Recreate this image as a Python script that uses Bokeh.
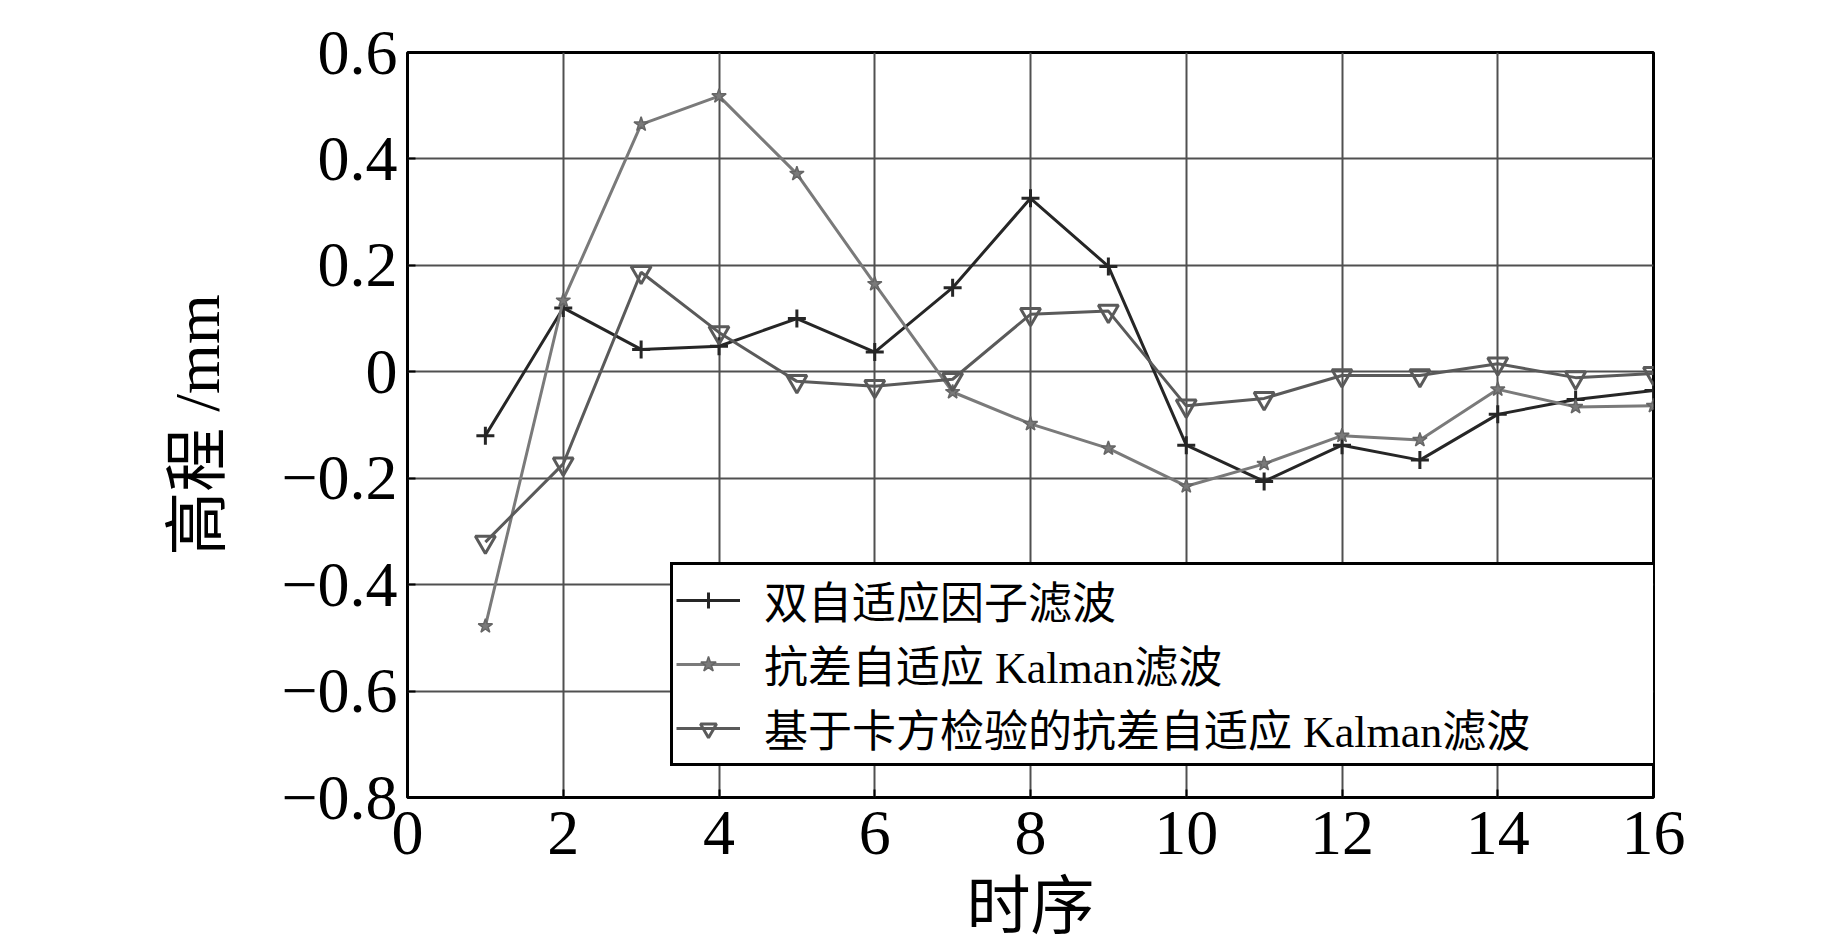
from bokeh.plotting import figure
from bokeh.models import Range1d, FixedTicker, Legend, LegendItem
from bokeh.embed import file_html
from bokeh.resources import INLINE

# ---- data ----
seq = list(range(1, 17))
dual_factor = [-0.12, 0.12, 0.042, 0.048, 0.10, 0.037, 0.158, 0.326,
               0.198, -0.138, -0.206, -0.138, -0.166, -0.08, -0.052, -0.035]
robust_kalman = [-0.478, 0.134, 0.465, 0.518, 0.372, 0.165, -0.038, -0.098,
                 -0.144, -0.215, -0.173, -0.12, -0.128, -0.033, -0.066, -0.064]
chi_robust_kalman = [-0.32, -0.173, 0.187, 0.074, -0.018, -0.027, -0.014, 0.108,
                     0.114, -0.064, -0.05, -0.007, -0.007, 0.015, -0.011, -0.003]
series_names = ["双自适应因子滤波", "抗差自适应 Kalman滤波", "基于卡方检验的抗差自适应 Kalman滤波"]
x_ticks = [0, 2, 4, 6, 8, 10, 12, 14, 16]
y_ticks = [-0.8, -0.6, -0.4, -0.2, 0.0, 0.2, 0.4, 0.6]
y_tick_labels = ["\u22120.8", "\u22120.6", "\u22120.4", "\u22120.2", "0", "0.2", "0.4", "0.6"]
x_label = "时序"
y_label = "高程 /mm"

SERIF = "'Liberation Serif', 'Noto Sans CJK SC'"

p = figure(width=1835, height=945, output_backend="svg", toolbar_location=None,
           x_range=Range1d(0, 16), y_range=Range1d(-0.8, 0.6),
           min_border_left=407, min_border_right=182, min_border_top=52, min_border_bottom=148)
p.background_fill_color = "white"
p.border_fill_color = "white"
p.outline_line_color = "black"
p.outline_line_width = 3
p.outline_line_alpha = 1

p.xaxis.ticker = FixedTicker(ticks=x_ticks)
p.yaxis.ticker = FixedTicker(ticks=y_ticks)
p.yaxis.major_label_overrides = {t: l for t, l in zip(y_ticks, y_tick_labels)}
for ax in (p.xaxis[0], p.yaxis[0]):
    ax.axis_line_color = None
    ax.major_tick_in = 8
    ax.major_tick_out = 0
    ax.major_tick_line_color = "black"
    ax.major_tick_line_width = 2
    ax.minor_tick_line_color = None
    ax.major_label_text_font = SERIF
    ax.major_label_text_font_size = "64px"
    ax.major_label_text_color = "black"
    ax.axis_label_text_font = SERIF
    ax.axis_label_text_font_size = "64px"
    ax.axis_label_text_font_style = "normal"
    ax.axis_label_text_color = "black"
p.xaxis.axis_label = x_label
p.yaxis.axis_label = y_label
p.xaxis.major_label_standoff = 14
p.yaxis.major_label_standoff = 10
p.xaxis.axis_label_standoff = 14
p.yaxis.axis_label_standoff = 45

p.grid.grid_line_color = "#505050"
p.grid.grid_line_width = 2

c1, c2, c3 = "#262626", "#7a7a7a", "#5a5a5a"
l1 = p.line(seq, dual_factor, line_color=c1, line_width=3)
m1 = p.scatter(seq, dual_factor, marker="cross", size=18, line_color=c1, line_width=3)
l2 = p.line(seq, robust_kalman, line_color=c2, line_width=3)
m2 = p.scatter(seq, robust_kalman, marker="star", size=15, line_color="#666666", fill_color=c2, line_width=1.5)
l3 = p.line(seq, chi_robust_kalman, line_color=c3, line_width=3)
m3 = p.scatter(seq, chi_robust_kalman, marker="inverted_triangle", size=20, line_color=c3,
               fill_color=None, line_width=3)

legend = Legend(items=[LegendItem(label=series_names[0], renderers=[l1, m1]),
                       LegendItem(label=series_names[1], renderers=[l2, m2]),
                       LegendItem(label=series_names[2], renderers=[l3, m3])],
                location=(263, 31))
legend.border_line_color = "black"
legend.border_line_width = 3
legend.border_line_alpha = 1
legend.background_fill_color = "white"
legend.background_fill_alpha = 1
legend.label_text_font = SERIF
legend.label_text_font_size = "44px"
legend.label_text_color = "black"
legend.glyph_width = 64
legend.glyph_height = 40
legend.label_standoff = 24
legend.label_width = 889
legend.spacing = 0
legend.padding = 3
legend.margin = 0
p.add_layout(legend)

open("out.html", "w").write(file_html(p, INLINE))
